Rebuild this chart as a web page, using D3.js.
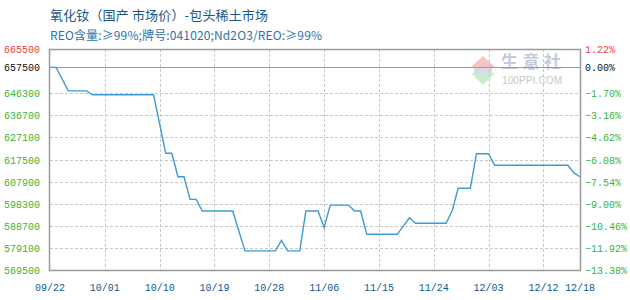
<!DOCTYPE html>
<html>
<head>
<meta charset="utf-8">
<script src="https://cdn.jsdelivr.net/npm/d3@7"></script>
<style>
  body { margin: 0; background: #fff; }
  svg { display: block; }
</style>
</head>
<body>
<svg id="chart" width="630" height="300"></svg>
<script>
// data (price in yuan/ton)
const dates = ["09/22","09/23","09/25","09/28","09/29","10/09","10/11","10/12","10/13","10/14",
  "10/15","10/16","10/17","10/22","10/24","10/29","10/30","10/31","11/02","11/03",
  "11/05","11/06","11/07","11/10","11/11","11/12","11/13","11/18","11/20","11/21",
  "11/26","11/27","11/28","11/30","12/01","12/03","12/04","12/16","12/17","12/18"];
const prices = [657500,657500,647300,647300,645600,645600,620200,620200,610000,610000,
  600200,600200,595100,595100,577800,577800,582400,577800,577800,595100,
  595100,588000,597700,597700,595100,595100,585000,585000,592200,589800,
  589800,595100,605000,605000,620000,620000,615000,615000,611700,610000];

const yTicks = [665500,657500,646300,636700,627100,617500,607900,598300,588700,579100,569500];
const xTickLabels = ["09/22","10/01","10/10","10/19","10/28","11/06","11/15","11/24","12/03","12/12","12/18"];
const basePrice = 657500;

const titleText = "氧化钕（国产 市场价）-包头稀土市场";
const subtitleText = "REO含量:≥99%;牌号:041020;Nd2O3/REO:≥99%";

const parse = (s) => d3.timeParse("%Y/%m/%d")("2022/" + s);

const plotLeft = 50, plotRight = 580, plotTop = 49, plotBottom = 270;
const svg = d3.select("#chart");

const x = d3.scaleTime()
  .domain([parse("09/22"), parse("12/18")])
  .range([plotLeft, plotRight]);
const y = d3.scaleLinear()
  .domain([569500, 665500])
  .range([plotBottom, plotTop]);

const red = "#f23c3c", green = "#36b536", black = "#111";
const colorFor = (v) => v > basePrice ? red : v === basePrice ? black : green;

// titles
svg.append("text")
  .attr("x", 50).attr("y", 20)
  .attr("textLength", 218).attr("lengthAdjust", "spacing")
  .style("font-family", "'Noto Sans CJK SC', sans-serif")
  .style("font-size", "13px")
  .attr("fill", "#17568a")
  .text(titleText);

svg.append("text")
  .attr("x", 50).attr("y", 40)
  .attr("textLength", 272).attr("lengthAdjust", "spacing")
  .style("font-family", "'Noto Sans CJK SC', sans-serif")
  .style("font-size", "12px")
  .attr("fill", "#2f72a8")
  .text(subtitleText);

// watermark
const wm = svg.append("g").attr("class", "watermark");
wm.append("path")
  .attr("d", "M483,56 L495,67 L471,67 Z")
  .attr("fill", "#f6c4c4");
wm.append("rect")
  .attr("x", 474).attr("y", 67).attr("width", 18).attr("height", 6)
  .attr("fill", "#d6dbe4");
wm.append("path")
  .attr("d", "M471,73 L495,73 L483,85 Z")
  .attr("fill", "#cdeccd");
wm.append("text")
  .attr("x", 501).attr("y", 68)
  .attr("textLength", 60)
  .style("font-family", "'Noto Sans CJK SC', sans-serif")
  .style("font-size", "17px").style("font-weight", "bold")
  .attr("fill", "#c3cbdb")
  .text("生意社");
wm.append("text")
  .attr("x", 502).attr("y", 84)
  .attr("textLength", 60)
  .style("font-family", "'Liberation Sans', sans-serif")
  .style("font-size", "10px")
  .attr("fill", "#c8c8c8")
  .text("100PPI.COM");

// grid
const grid = svg.append("g").attr("class", "grid");
grid.selectAll("line.hgrid")
  .data(yTicks.filter((v) => v !== basePrice && v !== 665500 && v !== 569500))
  .join("line")
  .attr("class", "hgrid")
  .attr("x1", plotLeft).attr("x2", plotRight + 1)
  .attr("y1", (d) => Math.round(y(d)) + 0.5)
  .attr("y2", (d) => Math.round(y(d)) + 0.5)
  .attr("stroke", "#c8c8c8")
  .attr("stroke-dasharray", "3,2");

grid.selectAll("line.vgrid")
  .data(xTickLabels.slice(1, -1))
  .join("line")
  .attr("class", "vgrid")
  .attr("x1", (d) => Math.round(x(parse(d))) + 0.5)
  .attr("x2", (d) => Math.round(x(parse(d))) + 0.5)
  .attr("y1", plotTop).attr("y2", plotBottom)
  .attr("stroke", "#c8c8c8")
  .attr("stroke-dasharray", "3,2");

// base line (0%)
svg.append("line")
  .attr("x1", plotLeft).attr("x2", plotRight + 1)
  .attr("y1", Math.round(y(basePrice)) + 0.5)
  .attr("y2", Math.round(y(basePrice)) + 0.5)
  .attr("stroke", "#9a9a9a");

// frame
svg.append("rect")
  .attr("x", plotLeft - 0.5).attr("y", plotTop + 0.5)
  .attr("width", plotRight + 1 - plotLeft).attr("height", plotBottom - plotTop)
  .attr("fill", "none")
  .attr("stroke", "#9a9a9a")
  .attr("stroke-width", 1.5);

// price line
const line = d3.line()
  .x((d, i) => x(parse(dates[i])))
  .y((d) => y(d));

svg.append("path")
  .datum(prices)
  .attr("d", line)
  .attr("fill", "none")
  .attr("stroke", "#3b9ad8")
  .attr("stroke-width", 1.4);

// left axis labels
svg.append("g")
  .selectAll("text")
  .data(yTicks)
  .join("text")
  .attr("x", 40)
  .attr("y", (d) => y(d) + 4)
  .attr("text-anchor", "end")
  .style("font-family", "'Liberation Mono', monospace")
  .style("font-size", "10px")
  .attr("fill", colorFor)
  .text((d) => d);

// right axis labels (percent change from base)
const pct = (v) => d3.format(".2f")((v - basePrice) / basePrice * 100) + "%";
svg.append("g")
  .selectAll("text")
  .data(yTicks)
  .join("text")
  .attr("x", 585)
  .attr("y", (d) => y(d) + 4)
  .style("font-family", "'Liberation Mono', monospace")
  .style("font-size", "10px")
  .attr("fill", colorFor)
  .text(pct);

// x axis labels
svg.append("g")
  .selectAll("text")
  .data(xTickLabels)
  .join("text")
  .attr("x", (d) => x(parse(d)))
  .attr("y", 291)
  .attr("text-anchor", "middle")
  .style("font-family", "'Liberation Mono', monospace")
  .style("font-size", "10px")
  .attr("fill", "#0d5a8e")
  .text((d) => d);
</script>
</body>
</html>
